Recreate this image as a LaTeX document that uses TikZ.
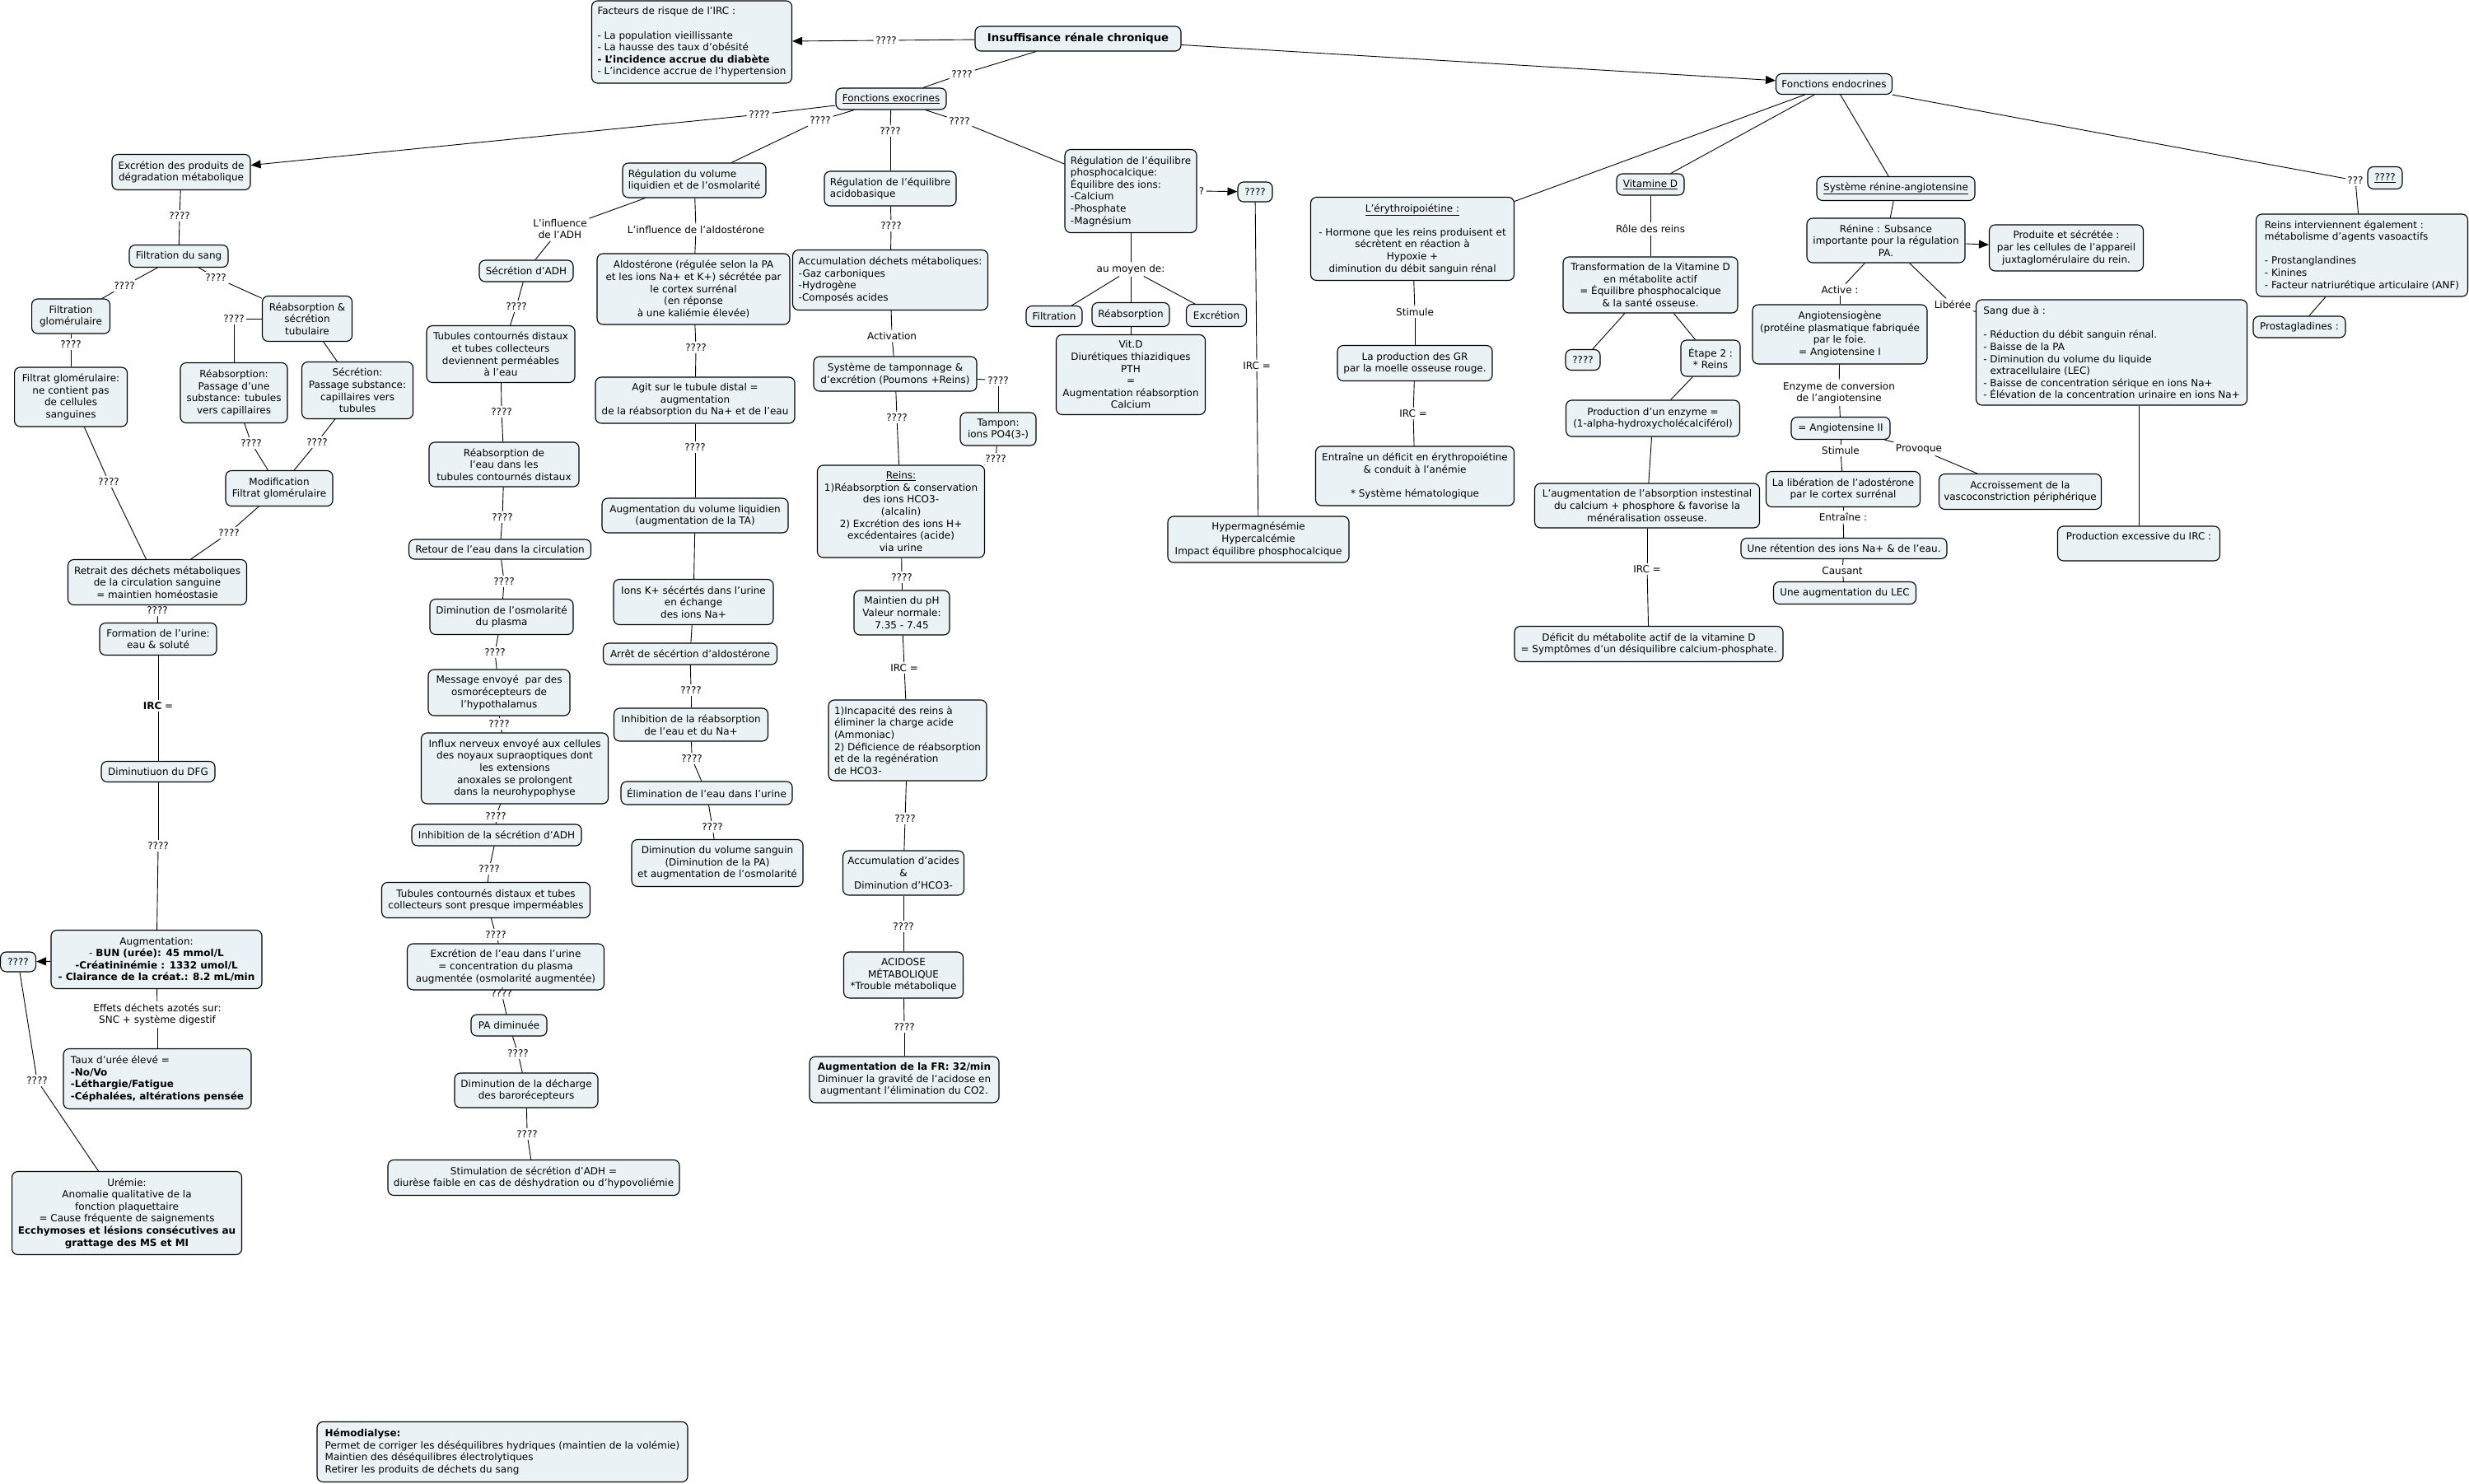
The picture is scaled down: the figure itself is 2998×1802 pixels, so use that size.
\documentclass[tikz,border=0pt]{standalone}
\usepackage{fontspec}
\setmainfont{DejaVu Sans}
\usetikzlibrary{arrows.meta}
\definecolor{boxfill}{RGB}{235,242,245}
\newcommand\myfs{\fontsize{12}{14.6}\selectfont}
\newcommand\lk[3]{\draw[conn] (#1) -- (#2); \draw[conn] (#2) -- (#3);}
\newcommand\lka[3]{\draw[conn] (#1) -- (#2); \draw[arr] (#2) -- (#3);}
\tikzset{
 box/.style={draw, rounded corners=7pt, fill=boxfill, line width=1.1pt, inner sep=3pt, align=center, font=\myfs},
 lbox/.style={box, align=left},
 lbl/.style={inner sep=2.5pt, align=center, font=\myfs},
 conn/.style={line width=0.9pt},
 arr/.style={line width=0.9pt, -{Triangle[length=12pt,width=10pt]}},
}
\begin{document}
\begin{tikzpicture}[x=1pt,y=-1pt]
\fill[white] (0,0) rectangle (2998,1802);
% ---------- labels ----------
\node[lbl] (lfact) at (1076,49) {????};
\node[lbl] (lexo) at (1168,90) {????};
\node[lbl] (lex1) at (922,139) {????};
\node[lbl] (lvol) at (996,146) {????};
\node[lbl] (lacb) at (1081,159) {????};
\node[lbl] (lpho) at (1165,147) {????};
\node[lbl] (lc1a) at (218,262) {????};
\node[lbl] (lc1b) at (151,347) {????};
\node[lbl] (lc1c) at (262,337) {????};
\node[lbl] (lc1d) at (86,418) {????};
\node[lbl] (lc1e) at (284,387) {????};
\node[lbl] (lc1f) at (305,538) {????};
\node[lbl] (lc1g) at (385,537) {????};
\node[lbl] (lc1h) at (132,585) {????};
\node[lbl] (lc1i) at (278,647) {????};
\node[lbl] (lc1j) at (191,741) {????};
\node[lbl] (lirc1) at (192,857) {\textbf{IRC} =};
\node[lbl] (lc1k) at (192,1027) {????};
\node[lbl] (leff) at (191,1232) {Effets déchets azotés sur:\\SNC + système digestif};
\node[lbl] (lc1l) at (45,1312) {????};
\node[lbl] (ladh) at (680,278) {L'influence\\de l'ADH};
\node[lbl] (lc2a) at (627,372) {????};
\node[lbl] (lc2b) at (609,500) {????};
\node[lbl] (lc2c) at (610,628) {????};
\node[lbl] (lc2d) at (612,706) {????};
\node[lbl] (lc2e) at (601,792) {????};
\node[lbl] (lc2f) at (606,879) {????};
\node[lbl] (lc2g) at (602,991) {????};
\node[lbl] (lc2h) at (594,1055) {????};
\node[lbl] (lc2i) at (602,1135) {????};
\node[lbl] (lc2j) at (609,1206) {????};
\node[lbl] (lc2k) at (629,1279) {????};
\node[lbl] (lc2l) at (640,1377) {????};
\node[lbl] (lald) at (845,279) {L'influence de l'aldostérone};
\node[lbl] (lc3a) at (845,422) {????};
\node[lbl] (lc3b) at (844,543) {????};
\node[lbl] (lc3c) at (839,838) {????};
\node[lbl] (lc3d) at (840,921) {????};
\node[lbl] (lc3e) at (865,1004) {????};
\node[lbl] (lc4a) at (1082,274) {????};
\node[lbl] (lact) at (1083,408) {Activation};
\node[lbl] (lc4b) at (1212,462) {????};
\node[lbl] (lc4c) at (1209,557) {????};
\node[lbl] (lc4d) at (1089,507) {????};
\node[lbl] (lc4e) at (1095,701) {????};
\node[lbl] (lirc4) at (1098,811) {IRC =};
\node[lbl] (lc4f) at (1099,994) {????};
\node[lbl] (lc4g) at (1097,1125) {????};
\node[lbl] (lc4h) at (1098,1247) {????};
\node[lbl] (lq) at (1459,232) {?};
\node[lbl] (lirc5) at (1526,444) {IRC =};
\node[lbl] (lmoy) at (1373,327) {au moyen de:};
\node[lbl] (lstima) at (1718,379) {Stimule};
\node[lbl] (lirc6) at (1716,502) {IRC =};
\node[lbl] (lrole) at (2004,278) {Rôle des reins};
\node[lbl] (lirc7) at (2000,691) {IRC =};
\node[lbl] (lact2) at (2234,352) {Active :};
\node[lbl] (lenz) at (2233,477) {Enzyme de conversion\\de l'angiotensine};
\node[lbl] (lstimb) at (2235,547) {Stimule};
\node[lbl] (lprov) at (2330,545) {Provoque};
\node[lbl] (lentr) at (2238,628) {Entraîne :};
\node[lbl] (lcaus) at (2237,693) {Causant};
\node[lbl] (llib) at (2371,370) {Libérée};
\node[lbl] (lq9) at (2860,219) {???};
% ---------- top ----------
\node[box, minimum width=250pt, minimum height=30pt, font=\fontsize{13.2}{16}\selectfont\bfseries] (irc) at (1309,47) {Insuffisance rénale chronique};
\node[lbox, minimum width=243pt, minimum height=100pt] (fact) at (840,51) {Facteurs de risque de l'IRC :\\[14.6pt]- La population vieillissante\\- La hausse des taux d'obésité\\\textbf{- L'incidence accrue du diabète}\\- L'incidence accrue de l'hypertension};
\node[box, minimum width=134pt, minimum height=26pt] (exo) at (1082,120) {\underline{Fonctions exocrines}};
\node[box, minimum width=141pt, minimum height=25pt] (endo) at (2227,102) {Fonctions endocrines};
% ---------- column 1 ----------
\node[box, minimum width=168pt, minimum height=43pt] (excr) at (220,209) {Excrétion des produits de\\dégradation métabolique};
\node[box, minimum width=120pt, minimum height=27pt] (filt) at (217,311) {Filtration du sang};
\node[box, minimum width=95pt, minimum height=42pt] (fglo) at (86,384) {Filtration\\glomérulaire};
\node[box, minimum width=109pt, minimum height=55pt] (rs) at (373,387) {Réabsorption \&\\sécrétion\\tubulaire};
\node[box, minimum width=137pt, minimum height=72pt] (fgl2) at (86,482) {Filtrat glomérulaire:\\ne contient pas\\de cellules\\sanguines};
\node[box, minimum width=130pt, minimum height=73pt] (reab) at (284,477) {Réabsorption:\\Passage d'une\\substance: tubules\\vers capillaires};
\node[box, minimum width=135pt, minimum height=69pt] (secr) at (434,474) {Sécrétion:\\Passage substance:\\capillaires vers\\tubules};
\node[box, minimum width=130pt, minimum height=43pt] (modif) at (339,593) {Modification\\Filtrat glomérulaire};
\node[box, minimum width=217pt, minimum height=55pt] (retr) at (191,707) {Retrait des déchets métaboliques\\de la circulation sanguine\\= maintien homéostasie};
\node[box, minimum width=142pt, minimum height=39pt] (form) at (192,776) {Formation de l'urine:\\eau \& soluté};
\node[box, minimum width=138pt, minimum height=25pt] (dfg) at (192,937) {Diminutiuon du DFG};
\node[box, minimum width=256pt, minimum height=71pt] (augm) at (190,1165) {Augmentation:\\- \textbf{BUN (urée): 45 mmol/L}\\\textbf{-Créatininémie : 1332 umol/L}\\\textbf{- Clairance de la créat.: 8.2 mL/min}};
\node[box, minimum width=43pt, minimum height=24pt] (qbox1) at (22,1168) {????};
\node[lbox, minimum width=228pt, minimum height=73pt] (taux) at (191,1310) {Taux d'urée élevé =\\\textbf{-No/Vo}\\\textbf{-Léthargie/Fatigue}\\\textbf{-Céphalées, altérations pensée}};
\node[box, minimum width=279pt, minimum height=101pt] (urem) at (154,1473) {Urémie:\\Anomalie qualitative de la\\fonction plaquettaire\\= Cause fréquente de saignements\\\textbf{Ecchymoses et lésions consécutives au}\\\textbf{grattage des MS et MI}};
% ---------- column 2 ----------
\node[box, minimum width=114pt, minimum height=26pt] (sadh) at (639,329) {Sécrétion d'ADH};
\node[box, minimum width=180pt, minimum height=69pt] (tuba) at (608,430) {Tubules contournés distaux\\et tubes collecteurs\\deviennent perméables\\à l'eau};
\node[box, minimum width=182pt, minimum height=54pt] (reau) at (612,564) {Réabsorption de\\l'eau dans les\\tubules contournés distaux};
\node[box, minimum width=221pt, minimum height=24pt] (ret) at (607,667) {Retour de l'eau dans la circulation};
\node[box, minimum width=174pt, minimum height=43pt] (dosm) at (609,749) {Diminution de l'osmolarité\\du plasma};
\node[box, minimum width=172pt, minimum height=56pt] (msg) at (606,841) {Message envoyé\ \ par des\\osmorécepteurs de\\l'hypothalamus};
\node[box, minimum width=227pt, minimum height=86pt] (infl) at (625,933) {Influx nerveux envoyé aux cellules\\des noyaux supraoptiques dont\\les extensions\\anoxales se prolongent\\dans la neurohypophyse};
\node[box, minimum width=206pt, minimum height=26pt] (inh) at (603,1014) {Inhibition de la sécrétion d'ADH};
\node[box, minimum width=253pt, minimum height=43pt] (tubb) at (590,1093) {Tubules contournés distaux et tubes\\collecteurs sont presque imperméables};
\node[box, minimum width=239pt, minimum height=56pt] (exce) at (614,1174) {Excrétion de l'eau dans l'urine\\= concentration du plasma\\augmentée (osmolarité augmentée)};
\node[box, minimum width=92pt, minimum height=26pt] (pad) at (618,1245) {PA diminuée};
\node[box, minimum width=174pt, minimum height=42pt] (ddec) at (639,1324) {Diminution de la décharge\\des barorécepteurs};
\node[box, minimum width=354pt, minimum height=43pt] (stim) at (648,1430) {Stimulation de sécrétion d'ADH =\\diurèse faible en cas de déshydration ou d'hypovoliémie};
\node[lbox, minimum width=450pt, minimum height=73pt] (hemo) at (610,1763) {\textbf{Hémodialyse:}\\Permet de corriger les déséquilibres hydriques (maintien de la volémie)\\Maintien des déséquilibres électrolytiques\\Retirer les produits de déchets du sang};
% ---------- column 3 ----------
\node[lbox, minimum width=174pt, minimum height=42pt] (rvol) at (843,219) {Régulation du volume\\liquidien et de l'osmolarité};
\node[box, minimum width=234pt, minimum height=86pt] (ald) at (842,351) {Aldostérone (régulée selon la PA\\et les ions Na+ et K+) sécrétée par\\le cortex surrénal\\(en réponse\\à une kaliémie élevée)};
\node[box, minimum width=242pt, minimum height=56pt] (agit) at (844,486) {Agit sur le tubule distal =\\augmentation\\de la réabsorption du Na+ et de l'eau};
\node[box, minimum width=226pt, minimum height=42pt] (augv) at (844,626) {Augmentation du volume liquidien\\(augmentation de la TA)};
\node[box, minimum width=194pt, minimum height=55pt] (ionk) at (842,731) {Ions K+ sécértés dans l'urine\\en échange\\des ions Na+};
\node[box, minimum width=211pt, minimum height=26pt] (arret) at (838,794) {Arrêt de sécértion d'aldostérone};
\node[box, minimum width=187pt, minimum height=40pt] (inhr) at (839,880) {Inhibition de la réabsorption\\de l'eau et du Na+};
\node[box, minimum width=208pt, minimum height=28pt] (elim) at (858,963) {Élimination de l'eau dans l'urine};
\node[box, minimum width=208pt, minimum height=57pt] (dvs) at (871,1048) {Diminution du volume sanguin\\(Diminution de la PA)\\et augmentation de l'osmolarité};
% ---------- column 4 ----------
\node[lbox, minimum width=160pt, minimum height=42pt] (racb) at (1081,229) {Régulation de l'équilibre\\acidobasique};
\node[lbox, minimum width=237pt, minimum height=73pt] (accd) at (1081,340) {Accumulation déchets métaboliques:\\-Gaz carboniques\\-Hydrogène\\-Composés acides};
\node[box, minimum width=198pt, minimum height=42pt] (syst) at (1087,454) {Système de tamponnage \&\\d'excrétion (Poumons +Reins)};
\node[box, minimum width=92pt, minimum height=40pt] (tamp) at (1212,521) {Tampon:\\ions PO4(3-)};
\node[box, minimum width=203pt, minimum height=112pt] (reins) at (1094,621) {\underline{Reins:}\\1)Réabsorption \& conservation\\des ions HCO3-\\(alcalin)\\2) Excrétion des ions H+\\excédentaires (acide)\\via urine};
\node[box, minimum width=116pt, minimum height=54pt] (mph) at (1095,744) {Maintien du pH\\Valeur normale:\\7.35 - 7.45};
\node[lbox, minimum width=192pt, minimum height=98pt] (inc) at (1102,899) {1)Incapacité des reins à\\éliminer la charge acide\\(Ammoniac)\\2) Déficience de réabsorption\\et de la regénération\\de HCO3-};
\node[box, minimum width=147pt, minimum height=54pt] (acca) at (1097,1060) {Accumulation d'acides\\\&\\Diminution d'HCO3-};
\node[box, minimum width=145pt, minimum height=56pt] (acid) at (1097,1184) {ACIDOSE\\MÉTABOLIQUE\\*Trouble métabolique};
\node[box, minimum width=230pt, minimum height=56pt] (afr) at (1098,1311) {\textbf{Augmentation de la FR: 32/min}\\Diminuer la gravité de l'acidose en\\augmentant l'élimination du CO2.};
% ---------- column 5 ----------
\node[lbox, minimum width=160pt, minimum height=101pt] (rpho) at (1373,232) {Régulation de l'équilibre\\phosphocalcique:\\Équilibre des ions:\\-Calcium\\-Phosphate\\-Magnésium};
\node[box, minimum width=42pt, minimum height=24pt] (qbox2) at (1524,233) {????};
\node[box, minimum width=220pt, minimum height=56pt] (hyper) at (1528,655) {Hypermagnésémie\\Hypercalcémie\\Impact équilibre phosphocalcique};
\node[box, minimum width=68pt, minimum height=25pt] (pfil) at (1280,384) {Filtration};
\node[box, minimum width=94pt, minimum height=29pt] (preab) at (1373,382) {Réabsorption};
\node[box, minimum width=73pt, minimum height=27pt] (pexc) at (1477,383) {Excrétion};
\node[box, minimum width=181pt, minimum height=97pt] (vitd) at (1373,455) {Vit.D\\Diurétiques thiazidiques\\PTH\\=\\Augmentation réabsorption\\Calcium};
% ---------- column 6 ----------
\node[box, minimum width=247pt, minimum height=101pt] (ery) at (1715,290) {\underline{L'érythroipoiétine :}\\[14.6pt]- Hormone que les reins produisent et\\sécrètent en réaction à\\Hypoxie +\\diminution du débit sanguin rénal};
\node[box, minimum width=188pt, minimum height=43pt] (gr) at (1718,441) {La production des GR\\par la moelle osseuse rouge.};
\node[box, minimum width=241pt, minimum height=72pt] (edef) at (1718,578) {Entraîne un déficit en érythropoiétine\\\& conduit à l'anémie\\[14.6pt]* Système hématologique};
% ---------- column 7 ----------
\node[box, minimum width=82pt, minimum height=26pt] (vd) at (2004,224) {\underline{Vitamine D}};
\node[box, minimum width=212pt, minimum height=68pt] (trans) at (2004,346) {Transformation de la Vitamine D\\en métabolite actif\\= Équilibre phosphocalcique\\\& la santé osseuse.};
\node[box, minimum width=42pt, minimum height=25pt] (qbox3) at (1922,437) {????};
\node[box, minimum width=72pt, minimum height=44pt] (etape) at (2077,435) {Étape 2 :\\* Reins};
\node[box, minimum width=211pt, minimum height=44pt] (prod) at (2007,508) {Production d'un enzyme =\\(1-alpha-hydroxycholécalciférol)};
\node[box, minimum width=273pt, minimum height=54pt] (augb) at (2000,614) {L'augmentation de l'absorption instestinal\\du calcium + phosphore \& favorise la\\ménéralisation osseuse.};
\node[box, minimum width=326pt, minimum height=43pt] (defi) at (2002,782) {Déficit du métabolite actif de la vitamine D\\= Symptômes d'un désiquilibre calcium-phosphate.};
% ---------- column 8 ----------
\node[box, minimum width=192pt, minimum height=29pt] (sra) at (2302,229) {\underline{Système rénine-angiotensine}};
\node[box, minimum width=192pt, minimum height=54pt] (ren) at (2290,292) {Rénine : Subsance\\importante pour la régulation\\PA.};
\node[box, minimum width=187pt, minimum height=56pt] (prodt) at (2509,301) {Produite et sécrétée :\\par les cellules de l'appareil\\juxtaglomérulaire du rein.};
\node[box, minimum width=212pt, minimum height=72pt] (angi) at (2234,406) {Angiotensiogène\\(protéine plasmatique fabriquée\\par le foie.\\= Angiotensine I};
\node[box, minimum width=120pt, minimum height=27pt] (angb) at (2235,520) {= Angiotensine II};
\node[box, minimum width=187pt, minimum height=43pt] (lib) at (2238,594) {La libération de l'adostérone\\par le cortex surrénal};
\node[box, minimum width=197pt, minimum height=43pt] (accr) at (2453,597) {Accroissement de la\\vascoconstriction périphérique};
\node[box, minimum width=250pt, minimum height=25pt] (retn) at (2239,666) {Une rétention des ions Na+ \& de l'eau.};
\node[box, minimum width=173pt, minimum height=27pt] (alec) at (2240,720) {Une augmentation du LEC};
\node[lbox, minimum width=329pt, minimum height=128pt] (sang) at (2564,428) {Sang due à :\\[14.6pt]- Réduction du débit sanguin rénal.\\- Baisse de la PA\\- Diminution du volume du liquide\\\hspace*{0.7em}extracellulaire (LEC)\\- Baisse de concentration sérique en ions Na+\\- Élévation de la concentration urinaire en ions Na+};
\node[box, minimum width=197pt, minimum height=42pt] (pexi) at (2597,660) {Production excessive du IRC :\\\strut};
% ---------- column 9 ----------
\node[box, minimum width=42pt, minimum height=27pt] (qbox4) at (2896,216) {\underline{????}};
\node[lbox, minimum width=257pt, minimum height=100pt] (reinb) at (2868,310) {Reins interviennent également :\\métabolisme d'agents vasoactifs\\[14.6pt]- Prostanglandines\\- Kinines\\- Facteur natriurétique articulaire (ANF)};
\node[box, minimum width=112pt, minimum height=26pt] (prost) at (2792,397) {Prostagladines :};
% ---------- connectors ----------
\lka{irc}{lfact}{fact}
\lk{irc}{lexo}{exo}
\draw[arr] (irc) -- (endo);
\lka{exo}{lex1}{excr}
\lk{exo}{lvol}{rvol}
\lk{exo}{lacb}{racb}
\lk{exo}{lpho}{rpho}
% col 1
\lk{excr}{lc1a}{filt}
\lk{filt}{lc1b}{fglo}
\lk{filt}{lc1c}{rs}
\lk{fglo}{lc1d}{fgl2}
\lk{rs}{lc1e}{reab}
\draw[conn] (rs) -- (secr);
\lk{reab}{lc1f}{modif}
\lk{secr}{lc1g}{modif}
\lk{fgl2}{lc1h}{retr}
\lk{modif}{lc1i}{retr}
\lk{retr}{lc1j}{form}
\lk{form}{lirc1}{dfg}
\lk{dfg}{lc1k}{augm}
\draw[arr] (augm) -- (qbox1);
\lk{augm}{leff}{taux}
\lk{qbox1}{lc1l}{urem}
% col 2
\lk{rvol}{ladh}{sadh}
\lk{sadh}{lc2a}{tuba}
\lk{tuba}{lc2b}{reau}
\lk{reau}{lc2c}{ret}
\lk{ret}{lc2d}{dosm}
\lk{dosm}{lc2e}{msg}
\lk{msg}{lc2f}{infl}
\lk{infl}{lc2g}{inh}
\lk{inh}{lc2h}{tubb}
\lk{tubb}{lc2i}{exce}
\lk{exce}{lc2j}{pad}
\lk{pad}{lc2k}{ddec}
\lk{ddec}{lc2l}{stim}
% col 3
\lk{rvol}{lald}{ald}
\lk{ald}{lc3a}{agit}
\lk{agit}{lc3b}{augv}
\draw[conn] (augv) -- (ionk);
\draw[conn] (ionk) -- (arret);
\lk{arret}{lc3c}{inhr}
\lk{inhr}{lc3d}{elim}
\lk{elim}{lc3e}{dvs}
% col 4
\lk{racb}{lc4a}{accd}
\lk{accd}{lact}{syst}
\lk{syst}{lc4b}{tamp}
\lk{tamp}{lc4c}{reins}
\lk{syst}{lc4d}{reins}
\lk{reins}{lc4e}{mph}
\lk{mph}{lirc4}{inc}
\lk{inc}{lc4f}{acca}
\lk{acca}{lc4g}{acid}
\lk{acid}{lc4h}{afr}
% col 5
\draw[arr] (lq) -- (qbox2);
\lk{qbox2}{lirc5}{hyper}
\draw[conn] (rpho) -- (lmoy);
\draw[conn] (lmoy) -- (pfil);
\draw[conn] (lmoy) -- (preab);
\draw[conn] (lmoy) -- (pexc);
\draw[conn] (preab) -- (vitd);
% col 6
\draw[conn] (endo) -- (ery);
\lk{ery}{lstima}{gr}
\lk{gr}{lirc6}{edef}
% col 7
\draw[conn] (endo) -- (vd);
\lk{vd}{lrole}{trans}
\draw[conn] (trans) -- (qbox3);
\draw[conn] (trans) -- (etape);
\draw[conn] (etape) -- (prod);
\draw[conn] (prod) -- (augb);
\lk{augb}{lirc7}{defi}
% col 8
\draw[conn] (endo) -- (sra);
\draw[conn] (sra) -- (ren);
\draw[arr] (ren) -- (prodt);
\lk{ren}{lact2}{angi}
\lk{angi}{lenz}{angb}
\lk{angb}{lstimb}{lib}
\lk{angb}{lprov}{accr}
\lk{lib}{lentr}{retn}
\lk{retn}{lcaus}{alec}
\lk{ren}{llib}{sang}
\draw[conn] (pexi.north |- sang.south) -- (pexi.north);
% col 9
\lk{endo}{lq9}{reinb}
\draw[conn] (reinb) -- (prost);
\end{tikzpicture}
\end{document}
